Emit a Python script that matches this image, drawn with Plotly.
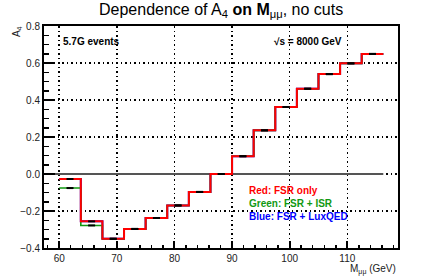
import plotly.graph_objects as go

# ---- data ----
bin_edges = [60.0, 63.75, 67.5, 71.25, 75.0, 78.75, 82.5, 86.25, 90.0,
             93.75, 97.5, 101.25, 105.0, 108.75, 112.5, 116.25]
a4_red = [-0.027, -0.256, -0.350, -0.297, -0.238, -0.170, -0.097, 0.000,
          0.096, 0.236, 0.362, 0.461, 0.540, 0.598, 0.649]
a4_green = [-0.076, -0.278, -0.350, -0.297, -0.238, -0.170, -0.097, 0.000,
            0.096, 0.236, 0.362, 0.461, 0.540, 0.598, 0.649]
a4_blue = [-0.027, -0.256, -0.350, -0.297, -0.238, -0.170, -0.097, 0.000,
           0.096, 0.236, 0.362, 0.461, 0.540, 0.598, 0.649]

x_range = [57.36, 118.8]
y_range = [-0.4, 0.8]
x_ticks = [60, 70, 80, 90, 100, 110]
y_ticks = [-0.4, -0.2, 0, 0.2, 0.4, 0.6, 0.8]

centers = [(a + b) / 2 for a, b in zip(bin_edges[:-1], bin_edges[1:])]

FONT = "Liberation Sans, Arial, sans-serif"

fig = go.Figure()


def step(vals, color, width):
    return go.Scatter(x=bin_edges, y=list(vals) + [vals[-1]], mode="lines",
                      line=dict(color=color, width=width, shape="hv"),
                      hoverinfo="skip", showlegend=False)


# zero line (solid grey) under histograms
fig.add_trace(go.Scatter(x=[x_range[0], bin_edges[-1]], y=[0, 0], mode="lines",
                         line=dict(color="#555555", width=2),
                         hoverinfo="skip", showlegend=False))
fig.add_trace(step(a4_blue, "#0000ff", 2))
fig.add_trace(step(a4_green, "#119911", 1.6))
fig.add_trace(step(a4_red, "#ff0000", 2))

for vals in (a4_green, a4_red):
    fig.add_trace(go.Scatter(x=centers, y=vals, mode="markers",
                             marker=dict(symbol="line-ew", size=5,
                                         line=dict(color="black", width=2)),
                             hoverinfo="skip", showlegend=False))

ann = []
ann.append(dict(text="Dependence of A<sub>4</sub><b> on M</b><sub>μμ</sub>, no cuts",
                xref="paper", yref="paper", x=0.5, y=1.0676, xanchor="center",
                yanchor="middle", showarrow=False,
                font=dict(family=FONT, size=16, color="black")))
ann.append(dict(text="<b>5.7G events</b>", xref="paper", yref="paper", x=0.048,
                y=0.932, xanchor="left", yanchor="middle", showarrow=False,
                font=dict(family=FONT, size=10, color="black")))
ann.append(dict(text="<b>√s = 8000 GeV</b>", xref="paper", yref="paper", x=0.847,
                y=0.932, xanchor="right", yanchor="middle", showarrow=False,
                font=dict(family=FONT, size=10, color="black")))
for txt, col, yy in (("Red: FSR only", "#ff0000", 0.258),
                     ("Green: FSR + ISR", "#119911", 0.2014),
                     ("Blue: FSR + LuxQED", "#0000ff", 0.141)):
    ann.append(dict(text="<b>" + txt + "</b>", xref="paper", yref="paper",
                    x=0.5726, y=yy, xanchor="left", yanchor="middle",
                    showarrow=False, font=dict(family=FONT, size=10, color=col)))
ann.append(dict(text="A<sub>4</sub>", xref="paper", yref="paper", x=-0.076,
                y=0.973, xanchor="center", yanchor="middle", textangle=-90,
                showarrow=False, font=dict(family=FONT, size=10, color="#222")))
ann.append(dict(text="M<sub>μμ</sub> (GeV)", xref="paper", yref="paper", x=1.0,
                y=-0.095, xanchor="right", yanchor="middle", showarrow=False,
                font=dict(family=FONT, size=10, color="#222")))

fig.update_layout(
    width=443, height=277,
    margin=dict(l=44, r=45, t=26, b=29),
    paper_bgcolor="white", plot_bgcolor="white",
    annotations=ann,
    font=dict(family=FONT, size=10, color="#222"),
    xaxis=dict(range=x_range, tickvals=x_ticks, ticks="inside", ticklen=7,
               tickwidth=2, tickcolor="black", showline=True, mirror=True,
               linecolor="black", linewidth=2, showgrid=True,
               gridcolor="black", griddash="1.5px,3px", gridwidth=1.5,
               zeroline=False, automargin=False,
               minor=dict(dtick=2, ticks="inside", ticklen=3.5, tickwidth=1.5,
                          tickcolor="black", showgrid=False),
               tickfont=dict(family=FONT, size=10, color="#222")),
    yaxis=dict(range=y_range, tickvals=y_ticks, ticks="inside", ticklen=11,
               tickwidth=2, tickcolor="black", showline=True, mirror=True,
               linecolor="black", linewidth=2, showgrid=True,
               gridcolor="black", griddash="1.5px,3px", gridwidth=1.5,
               zeroline=False, tickformat=".1f", automargin=False,
               minor=dict(dtick=0.05, ticks="inside", ticklen=5, tickwidth=1.5,
                          tickcolor="black", showgrid=False),
               tickfont=dict(family=FONT, size=10, color="#222")),
)

fig.write_html("out.html",
               config={"displayModeBar": False, "staticPlot": True},
               post_script="document.body.style.margin='0px';"
                           "document.body.style.padding='0px';")
